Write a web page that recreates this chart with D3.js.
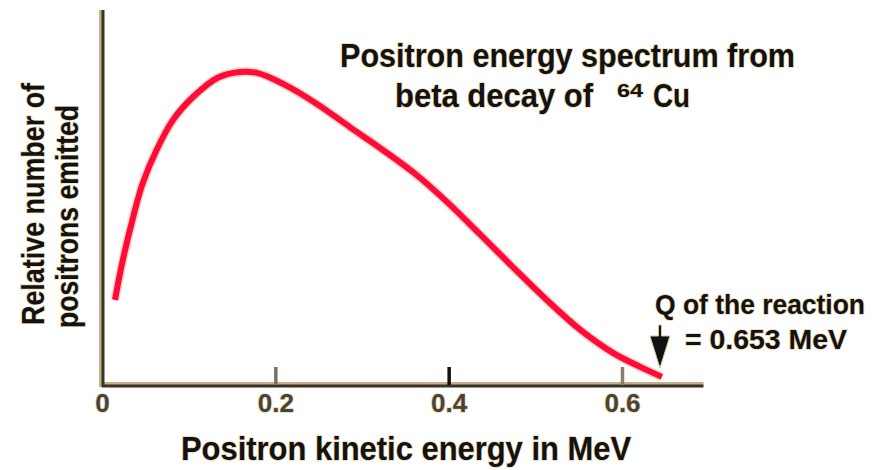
<!DOCTYPE html>
<meta charset="utf-8">
<head>
    <title>Positron energy spectrum</title>
    <script src="https://cdn.jsdelivr.net/npm/d3@7"></script>
</head>
<style>
    body{ margin:0; background:#fff; }
    text{
      font-family: "Liberation Sans", Arial, sans-serif;
      font-weight: bold;
      fill:#141210;
      stroke:#e8d8b2;
      stroke-width:1.6px;
      paint-order: stroke;
    }
</style>
<svg width="884" height="470">
    <g></g>
</svg>

<script>
    // values (energy in MeV, relative count, peak = 1)
    var energy = [0.015, 0.024, 0.036, 0.047, 0.063, 0.082, 0.105, 0.133, 0.159, 0.179, 0.209, 0.248,
                  0.286, 0.324, 0.363, 0.398, 0.436, 0.474, 0.513, 0.552, 0.590, 0.621, 0.646],
        counts = [0.272, 0.399, 0.537, 0.645, 0.751, 0.847, 0.920, 0.981, 1.0, 0.997, 0.962, 0.898,
                  0.824, 0.751, 0.671, 0.585, 0.482, 0.377, 0.272, 0.176, 0.102, 0.058, 0.026],
        xTicks = [0, 0.2, 0.4, 0.6],
        tickColors = ['none', '#7d7260', '#111', '#8a806b'],
        qValue = 0.653;

    var g = d3.select('svg').select('g');

    var x = d3.scaleLinear().domain([0, 0.6]).range([102, 622]),
        y = d3.scaleLinear().domain([0, 1]).range([385, 72]),
        xEnd = 0.694,
        yTop = 10;

    // axes: tan edge + dark line
    g.append('line').attr('x1', x(0)).attr('x2', x(xEnd)).attr('y1', y(0) - 1).attr('y2', y(0) - 1)
        .style('stroke', '#c2b08a').style('stroke-width', 4);
    g.append('line').attr('x1', x(0)).attr('x2', x(xEnd)).attr('y1', y(0) + 1).attr('y2', y(0) + 1)
        .style('stroke', '#3b3326').style('stroke-width', 3);
    g.append('line').attr('x1', x(0) - 1).attr('x2', x(0) - 1).attr('y1', yTop).attr('y2', y(0) + 2)
        .style('stroke', '#c2b08a').style('stroke-width', 4);
    g.append('line').attr('x1', x(0) + 1).attr('x2', x(0) + 1).attr('y1', yTop).attr('y2', y(0) + 2)
        .style('stroke', '#3b3326').style('stroke-width', 3);

    var xAxis = d3.axisBottom(x).tickValues(xTicks).tickSizeInner(-18).tickSizeOuter(0).tickPadding(9)
        .tickFormat(function(d){ return d === 0 ? '0' : d3.format('.1f')(d); });

    var ax = g.append('g').attr('transform', 'translate(0,' + y(0) + ')').call(xAxis);
    ax.select('.domain').remove();
    ax.selectAll('.tick line')
        .style('stroke', function(d, i){ return tickColors[i]; })
        .style('stroke-width', 3.5);
    ax.selectAll('.tick text')
        .style('font-size', '26px')
        .style('font-family', '"Liberation Sans", Arial, sans-serif')
        .style('fill', '#4a4336');

    // spectrum
    var line = d3.line()
        .x(function(d){ return x(d[0]); })
        .y(function(d){ return y(d[1]); })
        .curve(d3.curveCatmullRom);
    var pts = energy.map(function(e, i){ return [e, counts[i]]; });

    g.append('path').datum(pts).attr('d', line)
        .style('fill', 'none').style('stroke', '#ffd2bd').style('stroke-width', 9);
    g.append('path').datum(pts).attr('d', line)
        .style('fill', 'none').style('stroke', '#ff0a3c').style('stroke-width', 6)
        .style('stroke-linecap', 'butt');

    // Q arrow
    var qx = x(qValue) - 8;
    g.append('path')
        .attr('d', 'M' + (qx - 1.5) + ',325 L' + (qx + 1.5) + ',325 L' + (qx + 1.5) + ',336 L' + (qx + 10) + ',336 L' + qx + ',368 L' + (qx - 10) + ',336 L' + (qx - 1.5) + ',336 Z')
        .style('fill', '#111').style('stroke', '#d9c79e').style('stroke-width', 1);

    // texts
    function label(str, px, py, size, len){
        return g.append('text').text(str)
            .attr('x', px).attr('y', py)
            .attr('textLength', len).attr('lengthAdjust', 'spacingAndGlyphs')
            .style('font-size', size + 'px');
    }

    label('Positron energy spectrum from', 340, 67, 34, 455);
    label('beta decay of', 395, 107, 34, 198);
    label('64', 617, 97, 19, 26);
    label('Cu', 653, 107, 34, 37);

    label('Positron kinetic energy in MeV', 181, 460, 34, 450);

    label('Q of the reaction', 655, 314, 28, 210);
    label('= 0.653 MeV', 685, 349, 28, 162);

    g.append('text').text('Relative number of')
        .attr('transform', 'translate(44,325) rotate(-90)')
        .attr('textLength', 242).attr('lengthAdjust', 'spacingAndGlyphs')
        .style('font-size', '32px');
    g.append('text').text('positrons emitted')
        .attr('transform', 'translate(78,328) rotate(-90)')
        .attr('textLength', 223).attr('lengthAdjust', 'spacingAndGlyphs')
        .style('font-size', '32px');
</script>
